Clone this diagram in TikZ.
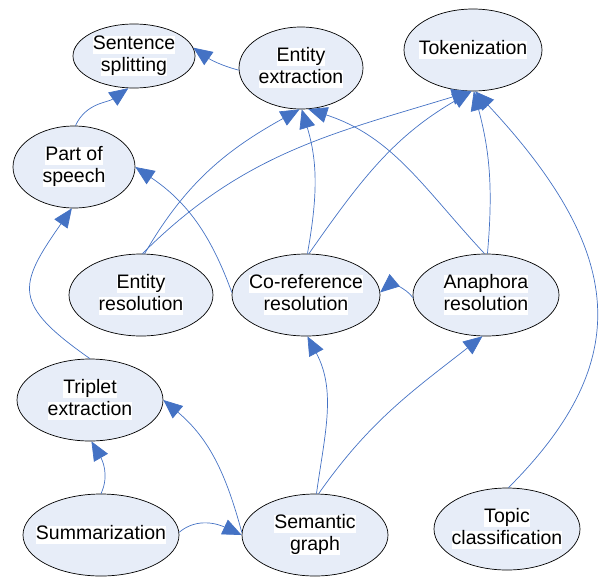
\documentclass[tikz,border=0pt]{standalone}
\usepackage{fontspec}
\setmainfont{Liberation Sans}
\usetikzlibrary{shapes.geometric,arrows.meta}
\definecolor{edgeblue}{RGB}{68,114,196}
\definecolor{taskfill}{RGB}{231,237,248}
\setlength{\fboxsep}{0pt}
\newcommand{\hl}[1]{\makebox[0pt]{\colorbox{white}{\rule[-4.5pt]{0pt}{18.5pt}#1}}}

\begin{document}
\begin{tikzpicture}[x=1pt,y=1pt,
		task/.style={ellipse,draw=black,fill=taskfill,line width=0.7pt,inner sep=0pt,
			minimum height=82pt,align=center,font=\fontsize{19.5}{22}\selectfont},
		link/.style={draw=edgeblue,line width=0.7pt,-{Triangle[length=19pt,width=16pt]}}]
		\useasboundingbox (0,0) rectangle (601,-576);
		% tasks
		\node[task,minimum width=122pt,minimum height=64pt] (ss) at (134,-56) {\hl{Sentence}\\\hl{splitting}};
		\node[task,minimum width=124pt] (ee) at (301,-68) {\hl{Entity}\\\hl{extraction}};
		\node[task,minimum width=138pt] (tok) at (473,-50) {\hl{Tokenization}};
		\node[task,minimum width=122pt] (pos) at (74,-167) {\hl{Part of}\\\hl{speech}};
		\node[task,minimum width=144pt] (er) at (141,-295) {\hl{Entity}\\\hl{resolution}};
		\node[task,minimum width=148pt] (cr) at (306,-295) {\hl{Co-reference}\\\hl{resolution}};
		\node[task,minimum width=146pt] (ar) at (486,-295) {\hl{Anaphora}\\\hl{resolution}};
		\node[task,minimum width=146pt] (te) at (90,-400) {\hl{Triplet}\\\hl{extraction}};
		\node[task,minimum width=156pt] (sum) at (101,-535) {\hl{Summarization}};
		\node[task,minimum width=146pt] (sg) at (315,-535) {\hl{Semantic}\\\hl{graph}};
		\node[task,minimum width=146pt] (tc) at (507,-529) {\hl{Topic}\\\hl{classification}};
		% dependencies
		\draw[link] (ee.182) to[out=165,in=-35] (ss.8);
		\draw[link] (pos.88) to[out=65,in=215] (ss.260);
		\draw[link] (er.88) to[out=45,in=197] (tok.267);
		\draw[link] (er.85) to[out=60,in=209] (ee.268);
		\draw[link] (cr.178) to[out=110,in=-34] (pos.0);
		\draw[link] (cr.88) to[out=80,in=-73] (ee.271);
		\draw[link] (cr.86) to[out=55,in=210] (tok.268);
		\draw[link] (ar.92) to[out=133,in=-18] (ee.280);
		\draw[link] (ar.88) to[out=85,in=-75] (tok.271);
		\draw[link] (ar.182) to[out=125,in=40] (cr.2);
		\draw[link] (tc.88) to[out=45,in=-47,out distance=180pt,in distance=220pt] (tok.273);
		\draw[link] (te.90) to[out=145,in=-125,distance=95pt] (pos.267);
		\draw[link] (sum.90) to[out=65,in=-60] (te.272);
		\draw[link] (sum.2) to[out=40,in=155] (sg.180);
		\draw[link] (sg.178) to[out=105,in=-40] (te.0);
		\draw[link] (sg.88) to[out=82,in=-62] (cr.272);
		\draw[link] (sg.85) to[out=55,in=218] (ar.265);
	\end{tikzpicture}
\end{document}
